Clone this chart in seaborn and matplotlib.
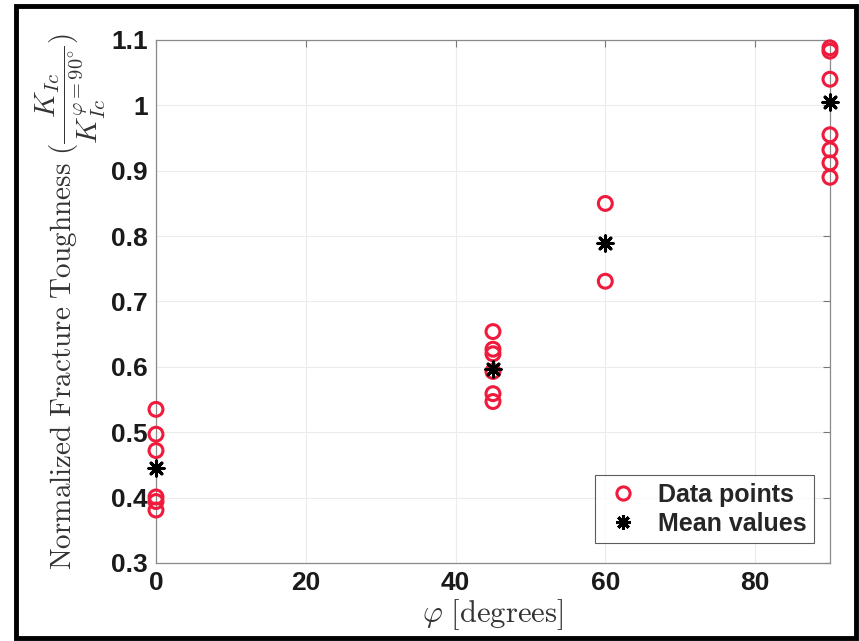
import matplotlib
matplotlib.use("Agg")
import matplotlib.pyplot as plt
import numpy as np
import pandas as pd
import seaborn as sb
from matplotlib.lines import Line2D
from matplotlib.patches import Rectangle

# data
phi_0 = [0.535, 0.497, 0.472, 0.401, 0.394, 0.381]
phi_45 = [0.654, 0.627, 0.620, 0.593, 0.559, 0.547]
phi_60 = [0.850, 0.731]
phi_90 = [1.088, 1.083, 1.040, 0.955, 0.932, 0.912, 0.890]
angles = [0, 45, 60, 90]
mean_values = [0.446, 0.597, 0.790, 1.005]

RED = "#f01a3c"

points = pd.DataFrame({
    "phi": np.repeat(angles, [len(phi_0), len(phi_45), len(phi_60), len(phi_90)]),
    "k": phi_0 + phi_45 + phi_60 + phi_90,
})
means = pd.DataFrame({"phi": angles, "k": mean_values})

sb.set_style("white")
plt.rcParams["font.family"] = ["Liberation Sans", "DejaVu Sans"]
plt.rcParams["mathtext.fontset"] = "cm"

fig = plt.figure(figsize=(8.59, 6.41), dpi=100)
ax = fig.add_axes([0.1816, 0.1217, 0.7846, 0.8159])

ax.grid(True, color="#ececec", linewidth=0.8)
ax.set_axisbelow(True)

sb.scatterplot(data=points, x="phi", y="k", ax=ax, marker="o", s=100,
               facecolors="none", edgecolors=RED, linewidths=2.2,
               clip_on=False, zorder=3, legend=False)
sb.scatterplot(data=means, x="phi", y="k", ax=ax, marker=(8, 2, 0), s=120,
               color="black", edgecolors="black", linewidths=2.2,
               clip_on=False, zorder=4, legend=False)

ax.set_xlim(0, 90)
ax.set_ylim(0.3, 1.1)
ax.set_xticks([0, 20, 40, 60, 80])
ax.set_yticks([0.3, 0.4, 0.5, 0.6, 0.7, 0.8, 0.9, 1.0, 1.1])
ax.set_yticklabels(["0.3", "0.4", "0.5", "0.6", "0.7", "0.8", "0.9", "1", "1.1"])
ax.tick_params(direction="in", length=5, width=0.8, color="#777777",
               top=True, right=True, labelsize=19, pad=6)
for lab in ax.get_xticklabels() + ax.get_yticklabels():
    lab.set_fontweight("bold")
    lab.set_color("#1a1a1a")
for sp in ax.spines.values():
    sp.set_color("#8a8a8a")
    sp.set_linewidth(0.9)

ax.set_xlabel(r"$\varphi\ \mathrm{[degrees]}$", fontsize=22,
              color="#333333", labelpad=1)
ax.set_ylabel(r"$\mathrm{Normalized\ Fracture\ Toughness}\ (\dfrac{K_{Ic}}{K_{Ic}^{\varphi=90^{\circ}}})$",
              fontsize=21, color="#333333", labelpad=2)

handles = [
    Line2D([], [], linestyle="none", marker="o", markersize=9.5, markerfacecolor="none",
           markeredgecolor=RED, markeredgewidth=2.2, label="Data points"),
    Line2D([], [], linestyle="none", marker=(8, 2, 0), markersize=10.5,
           color="black", markeredgewidth=2.2, label="Mean values"),
]
leg = ax.legend(handles=handles, loc="lower right", bbox_to_anchor=(0.976, 0.038),
                borderaxespad=0, frameon=True, fancybox=False, edgecolor="#333333",
                prop={"weight": "bold", "size": 18}, handletextpad=0.6,
                borderpad=0.3, labelspacing=0.2, handlelength=1.6)
leg.get_frame().set_linewidth(0.8)

# outer black frame of the figure
fig.patches.append(Rectangle((0.019, 0.005), 0.977, 0.985, transform=fig.transFigure,
                             fill=False, edgecolor="black", linewidth=3.5))

fig.savefig("out.png", dpi=100)
